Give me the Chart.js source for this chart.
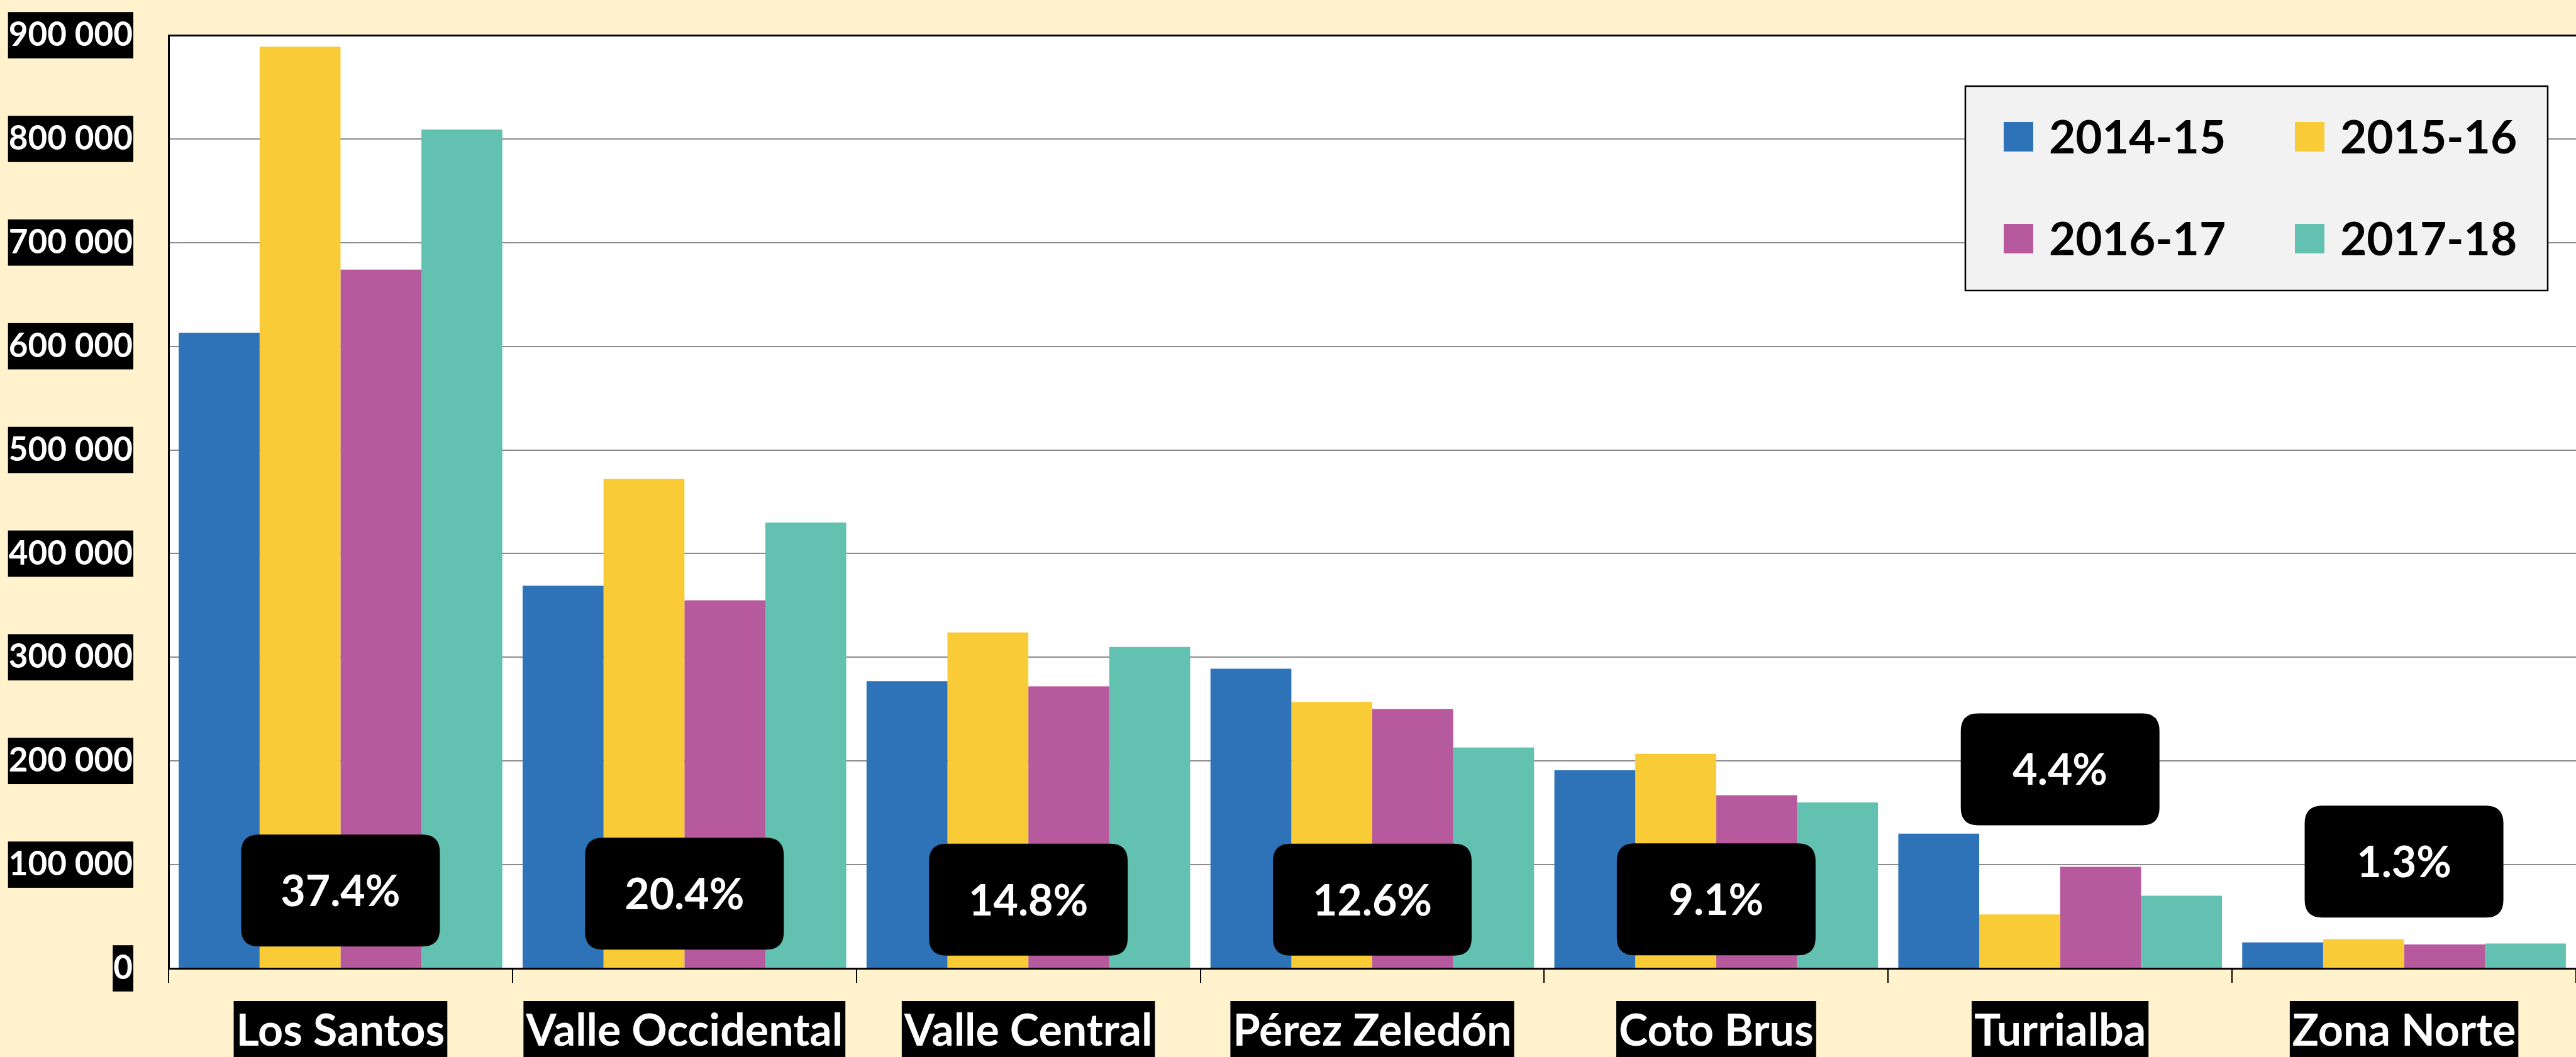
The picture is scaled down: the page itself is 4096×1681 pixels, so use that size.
<!DOCTYPE html>
<html>
<head>
<meta charset="utf-8">
<title>Producción por región</title>
<script src="https://cdn.jsdelivr.net/npm/chart.js@4.4.1/dist/chart.umd.min.js"></script>
<style>
  html, body { margin: 0; padding: 0; background: #FFF2CC; }
  #wrap { width: 4096px; height: 1681px; }
</style>
</head>
<body>
<div id="wrap"><canvas id="chart" width="4096" height="1681"></canvas></div>
<script>
// data
const regions = ['Los Santos', 'Valle Occidental', 'Valle Central', 'Pérez Zeledón', 'Coto Brus', 'Turrialba', 'Zona Norte'];
const seasons = ['2014-15', '2015-16', '2016-17', '2017-18'];
const values1415 = [613000, 369000, 277000, 289000, 191000, 130000, 25000];
const values1516 = [889000, 472000, 324000, 257000, 207000, 52000, 28000];
const values1617 = [674000, 355000, 272000, 250000, 167000, 98000, 23000];
const values1718 = [809000, 430000, 310000, 213000, 160000, 70000, 24000];
const shares = ['37.4%', '20.4%', '14.8%', '12.6%', '9.1%', '4.4%', '1.3%'];

const seasonColors = ['#2E73B8', '#F8CB37', '#B7599D', '#62C1B0'];
const FONT = 'Lato';

// where each share box sits (axis units), kept apart from the data
const shareBoxCenter = [75000, 72000, 66300, 66300, 66500, 192000, 103000];

function spaced(v) {
    return String(v).replace(/\B(?=(\d{3})+(?!\d))/g, ' ');
}

function roundRect(ctx, x, y, w, h, r) {
    ctx.beginPath();
    ctx.moveTo(x + r, y);
    ctx.lineTo(x + w - r, y);
    ctx.quadraticCurveTo(x + w, y, x + w, y + r);
    ctx.lineTo(x + w, y + h - r);
    ctx.quadraticCurveTo(x + w, y + h, x + w - r, y + h);
    ctx.lineTo(x + r, y + h);
    ctx.quadraticCurveTo(x, y + h, x, y + h - r);
    ctx.lineTo(x, y + r);
    ctx.quadraticCurveTo(x, y, x + r, y);
    ctx.closePath();
}

// cream page, white plot
const backgroundPlugin = {
    id: 'background',
    beforeDraw(chart) {
        const { ctx, chartArea: a } = chart;
        ctx.save();
        ctx.fillStyle = '#FFF2CC';
        ctx.fillRect(0, 0, chart.width, chart.height);
        ctx.fillStyle = '#FFFFFF';
        ctx.fillRect(a.left, a.top, a.right - a.left, a.bottom - a.top);
        ctx.restore();
    }
};

// black rounded boxes with the share of each region
const shareBoxPlugin = {
    id: 'shareBoxes',
    afterDatasetsDraw(chart) {
        const { ctx, scales } = chart;
        const w = 316, h = 178;
        ctx.save();
        shares.forEach((label, i) => {
            const cx = scales.x.getPixelForValue(i);
            const cy = scales.y.getPixelForValue(shareBoxCenter[i]);
            ctx.fillStyle = '#000000';
            roundRect(ctx, cx - w / 2, cy - h / 2, w, h, 28);
            ctx.fill();
            ctx.fillStyle = '#FFFFFF';
            ctx.font = 'bold 68px ' + FONT;
            ctx.textAlign = 'center';
            ctx.textBaseline = 'middle';
            ctx.fillText(label, cx, cy + 3);
        });
        ctx.restore();
    }
};

// legend box in the top right corner, 2 x 2
const legendBoxPlugin = {
    id: 'legendBox',
    afterDraw(chart) {
        const { ctx } = chart;
        const cols = [3186, 3649];
        const rows = [217, 379];
        ctx.save();
        ctx.fillStyle = '#F2F2F2';
        ctx.fillRect(3125, 137, 926, 325);
        ctx.strokeStyle = '#000000';
        ctx.lineWidth = 2.5;
        ctx.strokeRect(3125, 137, 926, 325);
        chart.data.datasets.forEach((ds, i) => {
            const x = cols[i % 2];
            const y = rows[Math.floor(i / 2)];
            ctx.fillStyle = ds.backgroundColor;
            ctx.fillRect(x, y - 23, 47, 47);
            ctx.fillStyle = '#000000';
            ctx.font = 'bold 73px ' + FONT;
            ctx.textAlign = 'left';
            ctx.textBaseline = 'middle';
            ctx.fillText(ds.label, x + 72, y + 3);
        });
        ctx.restore();
    }
};

const seriesValues = [values1415, values1516, values1617, values1718];

new Chart(document.getElementById('chart'), {
    type: 'bar',
    data: {
        labels: regions,
        datasets: seasons.map((s, i) => ({
            label: s,
            data: seriesValues[i],
            backgroundColor: seasonColors[i],
            borderWidth: 0,
            categoryPercentage: 0.941,
            barPercentage: 1
        }))
    },
    options: {
        responsive: false,
        animation: false,
        devicePixelRatio: 1,
        layout: { padding: { top: 56, left: 0, right: 0, bottom: 0 } },
        plugins: {
            legend: { display: false },
            tooltip: { enabled: false }
        },
        scales: {
            x: {
                grid: {
                    offset: true,
                    drawOnChartArea: false,
                    drawTicks: true,
                    tickLength: 23,
                    color: '#000000',
                    lineWidth: 2
                },
                border: { color: '#000000', width: 3, z: 1 },
                ticks: {
                    color: '#FFFFFF',
                    font: { family: FONT, weight: 'bold', size: 70 },
                    padding: 35,
                    maxRotation: 0,
                    autoSkip: false,
                    showLabelBackdrop: true,
                    backdropColor: '#000000',
                    backdropPadding: { left: 4, right: 4, top: 6, bottom: 6 }
                },
                afterFit(scale) {
                    scale.height = 141;
                    scale.paddingLeft = 0;
                    scale.paddingRight = 0;
                }
            },
            y: {
                min: 0,
                max: 900000,
                grid: {
                    drawTicks: false,
                    color: (c) => (c.tick && c.tick.value === 900000 ? '#000000' : '#8C8C8C'),
                    lineWidth: (c) => (c.tick && c.tick.value === 900000 ? 3 : 2)
                },
                border: { color: '#000000', width: 3, z: 1 },
                ticks: {
                    stepSize: 100000,
                    padding: 57,
                    color: '#FFFFFF',
                    font: { family: FONT, weight: 'bold', size: 53 },
                    showLabelBackdrop: true,
                    backdropColor: '#000000',
                    backdropPadding: { left: 1, right: 1, top: 5, bottom: 5 },
                    callback: (v) => spaced(v)
                },
                afterFit(scale) {
                    scale.width = 268;
                    scale.paddingTop = 0;
                    scale.paddingBottom = 0;
                }
            }
        }
    },
    plugins: [backgroundPlugin, shareBoxPlugin, legendBoxPlugin]
});
</script>
</body>
</html>
